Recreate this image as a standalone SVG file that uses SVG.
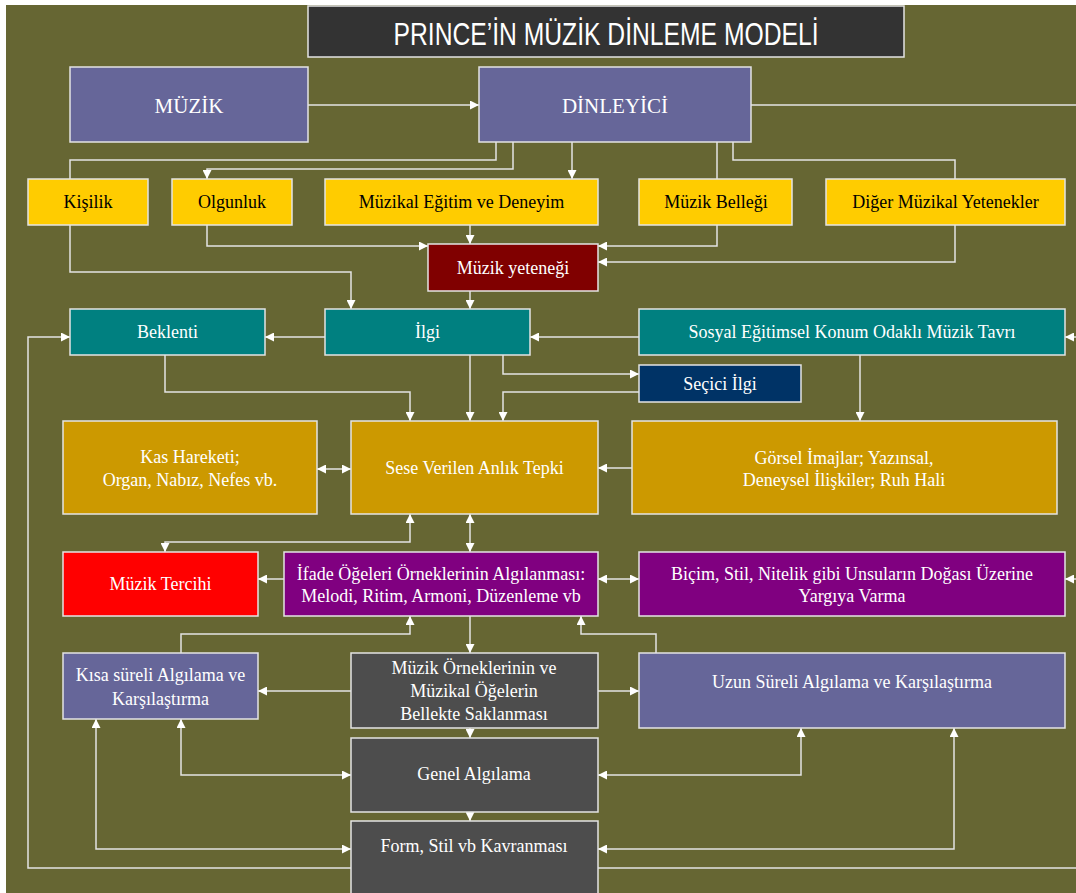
<svg xmlns="http://www.w3.org/2000/svg" width="1076" height="893" viewBox="0 0 1076 893">
<defs>
<style>
.bx{stroke:#e4e4e4;stroke-width:1.5}
.t{font-family:"Liberation Serif","Times New Roman",serif;font-size:18px;fill:#fff;text-anchor:middle}
.big{font-size:21px}
.dk{fill:#000}
.ln{fill:none;stroke:#e4e4e4;stroke-width:1.5}
.a{marker-end:url(#ah)}
.aa{marker-end:url(#ah);marker-start:url(#ah)}
</style>
<marker id="ah" viewBox="0 0 10 10" refX="10" refY="5" markerUnits="userSpaceOnUse" markerWidth="9" markerHeight="9" orient="auto-start-reverse">
<path d="M0,0 L10,5 L0,10 z" fill="#fff"/>
</marker>
</defs>
<rect x="0" y="0" width="1076" height="893" fill="#fff"/>
<rect x="6" y="5" width="1070" height="888" fill="#666633"/>

<g id="title">
<rect x="308" y="6" width="596" height="51" fill="#333333" class="bx"/>
<text x="606" y="45" font-family="'Liberation Sans',Arial,sans-serif" font-size="31" fill="#fff" text-anchor="middle" textLength="425" lengthAdjust="spacingAndGlyphs">PRINCE’İN MÜZİK DİNLEME MODELİ</text>
</g>

<g id="connectors">
<path class="ln a" d="M308,105 H479"/>
<path class="ln" d="M751,105 H1076"/>
<path class="ln a" d="M1076,337 H1065"/>
<path class="ln a" d="M1076,579 H1065"/>
<path class="ln" d="M496,142 V160 H70 V179"/>
<path class="ln a" d="M513,142 V169 H207 V179"/>
<path class="ln a" d="M572,142 V179"/>
<path class="ln" d="M717,142 V179"/>
<path class="ln" d="M733,142 V160 H955 V179"/>
<path class="ln a" d="M470,225 V244"/>
<path class="ln a" d="M207,225 V246 H428"/>
<path class="ln a" d="M717,225 V246 H598"/>
<path class="ln a" d="M955,225 V262 H598"/>
<path class="ln a" d="M70,225 V272 H351 V309"/>
<path class="ln a" d="M470,291 V309"/>
<path class="ln a" d="M325,337 H265"/>
<path class="ln a" d="M639,337 H530"/>
<path class="ln a" d="M351,868 H28 V337 H70"/>
<path class="ln a" d="M470,355 V421"/>
<path class="ln a" d="M503,355 V374 H639"/>
<path class="ln a" d="M639,392 H503 V421"/>
<path class="ln a" d="M165,355 V392 H410 V421"/>
<path class="ln a" d="M860,355 V421"/>
<path class="ln aa" d="M317,469 H351"/>
<path class="ln a" d="M632,468 H598"/>
<path class="ln aa" d="M410,514 V542 H165 V552"/>
<path class="ln aa" d="M470,514 V552"/>
<path class="ln a" d="M284,579 H258"/>
<path class="ln aa" d="M598,579 H639"/>
<path class="ln a" d="M470,616 V653"/>
<path class="ln a" d="M181,653 V634 H410 V616"/>
<path class="ln a" d="M656,653 V634 H581 V616"/>
<path class="ln a" d="M351,691 H258"/>
<path class="ln a" d="M598,691 H639"/>
<path class="ln a" d="M470,728 V738"/>
<path class="ln a" d="M470,812 V821"/>
<path class="ln aa" d="M181,719 V775 H351"/>
<path class="ln aa" d="M96,719 V849 H351"/>
<path class="ln aa" d="M801,728 V775 H598"/>
<path class="ln aa" d="M954,728 V849 H598"/>
<path class="ln" d="M598,868 H1076"/>
</g>

<g id="muzik"><rect x="70" y="67" width="238" height="75" fill="#666699" class="bx"/><text class="t big" x="189" y="113">MÜZİK</text></g>
<g id="dinleyici"><rect x="479" y="67" width="272" height="75" fill="#666699" class="bx"/><text class="t big" x="615" y="113">DİNLEYİCİ</text></g>

<g id="kisilik"><rect x="28" y="179" width="120" height="46" fill="#FFCC00" class="bx"/><text class="t dk" x="88" y="208">Kişilik</text></g>
<g id="olgunluk"><rect x="172" y="179" width="120" height="46" fill="#FFCC00" class="bx"/><text class="t dk" x="232" y="208">Olgunluk</text></g>
<g id="egitim"><rect x="325" y="179" width="273" height="46" fill="#FFCC00" class="bx"/><text class="t dk" x="461.5" y="208">Müzikal Eğitim ve Deneyim</text></g>
<g id="bellek"><rect x="639" y="179" width="153" height="46" fill="#FFCC00" class="bx"/><text class="t dk" x="716" y="208">Müzik Belleği</text></g>
<g id="diger"><rect x="826" y="179" width="239" height="46" fill="#FFCC00" class="bx"/><text class="t dk" x="945.5" y="208">Diğer Müzikal Yetenekler</text></g>

<g id="yetenek"><rect x="428" y="244" width="170" height="47" fill="#800000" class="bx"/><text class="t" x="513" y="274">Müzik yeteneği</text></g>

<g id="beklenti"><rect x="70" y="309" width="195" height="46" fill="#008080" class="bx"/><text class="t" x="167.5" y="338">Beklenti</text></g>
<g id="ilgi"><rect x="325" y="309" width="205" height="46" fill="#008080" class="bx"/><text class="t" x="427.5" y="338">İlgi</text></g>
<g id="sosyal"><rect x="639" y="309" width="426" height="46" fill="#008080" class="bx"/><text class="t" x="852" y="338">Sosyal Eğitimsel Konum Odaklı Müzik Tavrı</text></g>

<g id="secici"><rect x="639" y="365" width="162" height="37" fill="#003366" class="bx"/><text class="t" x="720" y="390">Seçici İlgi</text></g>

<g id="kas"><rect x="63" y="421" width="254" height="93" fill="#CC9900" class="bx"/><text class="t" x="190" y="463">Kas Hareketi;</text><text class="t" x="190" y="486">Organ, Nabız, Nefes vb.</text></g>
<g id="sese"><rect x="351" y="421" width="247" height="93" fill="#CC9900" class="bx"/><text class="t" x="474.5" y="474">Sese Verilen Anlık Tepki</text></g>
<g id="gorsel"><rect x="632" y="421" width="425" height="93" fill="#CC9900" class="bx"/><text class="t" x="844" y="464">Görsel İmajlar; Yazınsal,</text><text class="t" x="844" y="486">Deneysel İlişkiler; Ruh Hali</text></g>

<g id="tercih"><rect x="63" y="552" width="195" height="64" fill="#FF0000" class="bx"/><text class="t" x="160.5" y="590">Müzik Tercihi</text></g>
<g id="ifade"><rect x="284" y="552" width="314" height="64" fill="#800080" class="bx"/><text class="t" x="441" y="580">İfade Öğeleri Örneklerinin Algılanması:</text><text class="t" x="441" y="602">Melodi, Ritim, Armoni, Düzenleme vb</text></g>
<g id="bicim"><rect x="639" y="552" width="426" height="64" fill="#800080" class="bx"/><text class="t" x="852" y="580">Biçim, Stil, Nitelik gibi Unsuların Doğası Üzerine</text><text class="t" x="852" y="602">Yargıya Varma</text></g>

<g id="kisa"><rect x="63" y="653" width="195" height="66" fill="#666699" class="bx"/><text class="t" x="160.5" y="681">Kısa süreli Algılama ve</text><text class="t" x="160.5" y="705">Karşılaştırma</text></g>
<g id="ornek"><rect x="351" y="653" width="247" height="75" fill="#4D4D4D" class="bx"/><text class="t" x="474" y="674">Müzik Örneklerinin ve</text><text class="t" x="474" y="697">Müzikal Öğelerin</text><text class="t" x="474" y="720">Bellekte Saklanması</text></g>
<g id="uzun"><rect x="639" y="653" width="426" height="75" fill="#666699" class="bx"/><text class="t" x="852" y="688">Uzun Süreli Algılama ve Karşılaştırma</text></g>

<g id="genel"><rect x="351" y="738" width="247" height="74" fill="#4D4D4D" class="bx"/><text class="t" x="474" y="780">Genel Algılama</text></g>
<g id="form"><rect x="351" y="821" width="247" height="80" fill="#4D4D4D" class="bx"/><text class="t" x="474" y="852">Form, Stil vb Kavranması</text></g>
</svg>
